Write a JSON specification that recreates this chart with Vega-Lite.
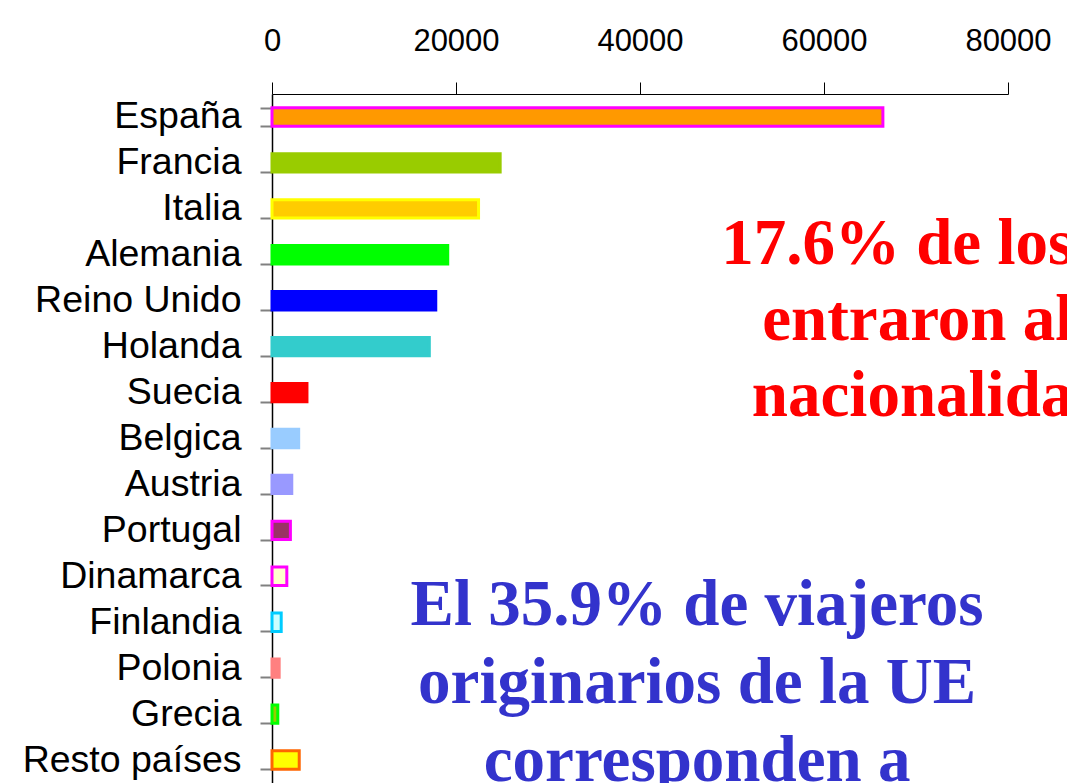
{
  "$schema": "https://vega.github.io/schema/vega-lite/v6.json",
  "autosize": {"type": "none"},
  "padding": {"left": 272, "top": 94, "right": 59, "bottom": 0},
  "width": 736,
  "height": 689,
  "background": "white",
  "config": {"view": {"stroke": null}},
  "layer": [
    {
      "data": {"values": [
        {"pais": "España", "viajeros": 66400},
        {"pais": "Francia", "viajeros": 24800},
        {"pais": "Italia", "viajeros": 22450},
        {"pais": "Alemania", "viajeros": 19100},
        {"pais": "Reino Unido", "viajeros": 17800},
        {"pais": "Holanda", "viajeros": 17100},
        {"pais": "Suecia", "viajeros": 3800},
        {"pais": "Belgica", "viajeros": 2900},
        {"pais": "Austria", "viajeros": 2150},
        {"pais": "Portugal", "viajeros": 2000},
        {"pais": "Dinamarca", "viajeros": 1610},
        {"pais": "Finlandia", "viajeros": 1000},
        {"pais": "Polonia", "viajeros": 780},
        {"pais": "Grecia", "viajeros": 630},
        {"pais": "Resto países", "viajeros": 2960}
      ]},
      "mark": {"type": "bar", "strokeWidth": 3, "cornerRadius": 0},
      "encoding": {
        "y": {
          "field": "pais", "type": "nominal", "sort": null,
          "scale": {"paddingInner": 0.6, "paddingOuter": 0.3},
          "axis": {
            "orient": "left", "title": null,
            "labelFont": "Liberation Sans, Arial, sans-serif", "labelFontSize": 37.5, "labelColor": "#000000",
            "labelPadding": 19, "labelLimit": 400,
            "tickBand": "extent", "tickSize": 12, "tickColor": "#808080", "tickWidth": 2,
            "domainColor": "#000000", "domainWidth": 1.5
          }
        },
        "x": {
          "field": "viajeros", "type": "quantitative",
          "scale": {"domain": [0, 80000], "nice": false, "zero": true},
          "axis": {
            "orient": "top", "title": null, "grid": false,
            "values": [0, 20000, 40000, 60000, 80000], "format": "d",
            "labelFont": "Liberation Sans, Arial, sans-serif", "labelFontSize": 31, "labelColor": "#000000",
            "labelPadding": 25, "labelFlush": false, "labelOverlap": false,
            "tickSize": 12, "tickColor": "#000000", "tickWidth": 1,
            "domainColor": "#000000", "domainWidth": 1
          }
        },
        "fill": {
          "field": "pais", "type": "nominal", "legend": null,
          "scale": {
            "domain": ["España", "Francia", "Italia", "Alemania", "Reino Unido", "Holanda", "Suecia", "Belgica", "Austria", "Portugal", "Dinamarca", "Finlandia", "Polonia", "Grecia", "Resto países"],
            "range": ["#FF9900", "#99CC00", "#FFCC00", "#00FF00", "#0000FF", "#33CCCC", "#FF0000", "#99CCFF", "#9999FF", "#993366", "#FFFFCC", "#CCFFFF", "#FF8080", "#99CC00", "#FFFF00"]
          }
        },
        "stroke": {
          "field": "pais", "type": "nominal", "legend": null,
          "scale": {
            "domain": ["España", "Francia", "Italia", "Alemania", "Reino Unido", "Holanda", "Suecia", "Belgica", "Austria", "Portugal", "Dinamarca", "Finlandia", "Polonia", "Grecia", "Resto países"],
            "range": ["#FF00FF", "#99CC00", "#FFFF00", "#00FF00", "#0000FF", "#33CCCC", "#FF0000", "#99CCFF", "#9999FF", "#FF00FF", "#FF00FF", "#00CCFF", "#FF8080", "#00FF00", "#FF6600"]
          }
        }
      }
    },
    {
      "data": {"values": [{"texto": ["17.6% de los", "entraron al", "nacionalida"]}]},
      "mark": {"type": "text", "align": "right", "baseline": "alphabetic", "font": "Liberation Serif", "fontWeight": "bold", "fontSize": 65, "lineHeight": 76, "color": "#FF0000", "dy": 9},
      "encoding": {
        "x": {"datum": 87100, "type": "quantitative"},
        "y": {"datum": "Alemania", "type": "nominal"},
        "text": {"field": "texto", "type": "nominal"}
      }
    },
    {
      "data": {"values": [{"texto": ["El 35.9% de viajeros", "originarios de la UE", "corresponden a"]}]},
      "mark": {"type": "text", "align": "center", "baseline": "alphabetic", "font": "Liberation Serif", "fontWeight": "bold", "fontSize": 65, "lineHeight": 78, "color": "#3333CC", "dy": 3},
      "encoding": {
        "x": {"datum": 46200, "type": "quantitative"},
        "y": {"datum": "Finlandia", "type": "nominal"},
        "text": {"field": "texto", "type": "nominal"}
      }
    }
  ]
}
